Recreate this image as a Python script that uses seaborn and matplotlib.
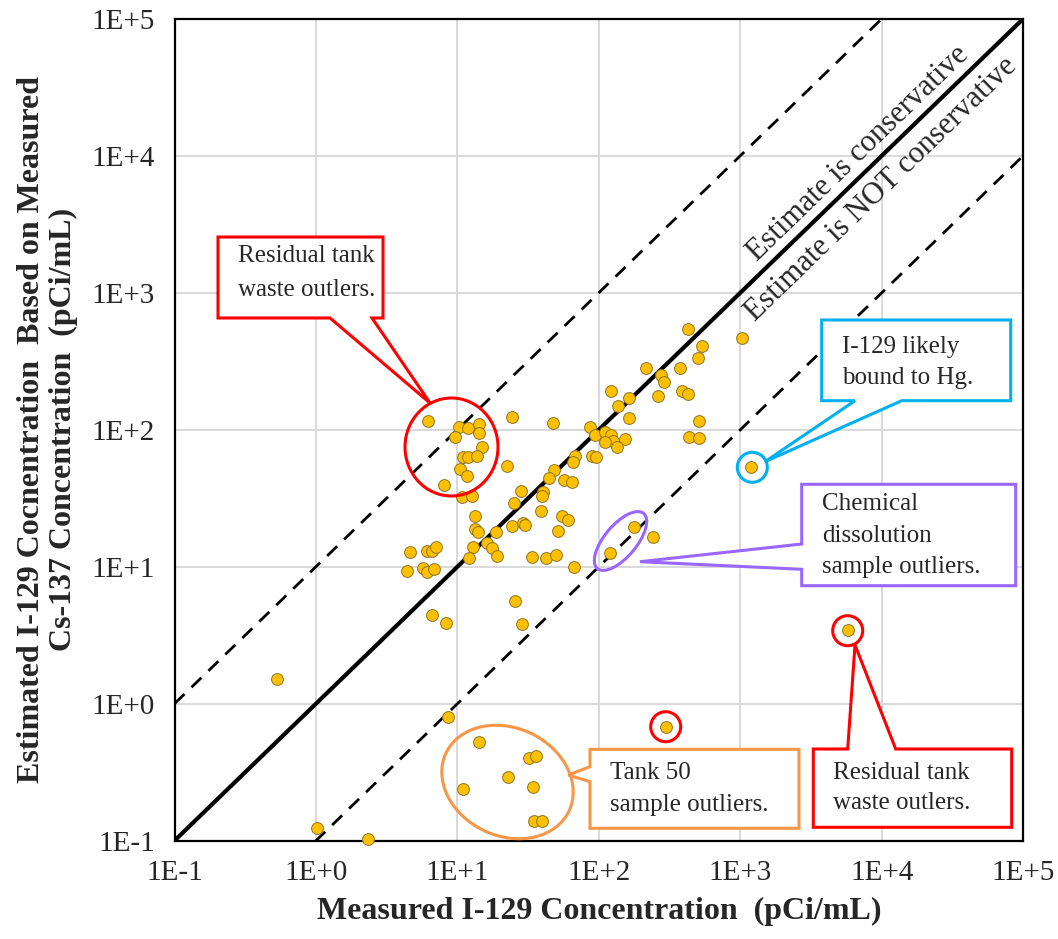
import numpy as np
import pandas as pd
import matplotlib
matplotlib.use("Agg")
import matplotlib.pyplot as plt
import seaborn as sns
from matplotlib.patches import Polygon, Ellipse, Circle
from matplotlib.ticker import LogLocator, NullFormatter

# ---------------- data ----------------
measured = [6.15, 10.3, 11.8, 14.2, 14.2, 9.6, 14.8, 11.0, 11.9, 13.7, 10.4, 11.6, 8.07, 10.8, 12.6,
            24.5, 47.5, 22.5, 13.4, 13.3, 13.9, 18.6, 28.2, 25.2, 40.4, 39.4, 48.3, 44.5, 56.9, 64.1,
            38.9, 55.0, 60.7, 24.5, 29.2, 30.0, 51.6, 67.6, 66.1, 4.62, 6.06, 6.64, 7.01, 4.42, 5.73,
            6.06, 6.86, 12.8, 12.1, 16.3, 17.6, 19.1, 33.8, 42.0, 49.7, 66.4, 25.4, 28.4, 6.57, 8.33,
            426, 537, 501, 214, 274, 287, 374, 388, 424, 122, 162, 136, 262, 163, 512, 430, 512,
            86.8, 94.5, 111, 122, 126, 153, 111, 135, 89.7, 95.3, 1019, 1180, 178, 242, 119, 5780,
            296, 0.527, 8.61, 14.2, 32.2, 35.7, 22.9, 10.9, 34.0, 34.7, 39.7, 1.01, 2.32]
estimated = [115.6, 105, 103.5, 109.5, 95, 88, 75.2, 63, 63.5, 64.3, 51.7, 46.2, 39.3, 32.4, 33,
             123, 112, 54.6, 23.4, 18.7, 17.8, 17.8, 35.7, 29.0, 35.2, 33, 50.8, 44.2, 43.0, 41.2,
             25.6, 23.4, 21.9, 19.8, 20.8, 20.0, 18.2, 64.3, 57.8, 12.7, 13.1, 13.1, 14.0, 9.3, 9.73,
             9.1, 9.6, 13.9, 11.5, 14.8, 13.8, 12.0, 11.8, 11.5, 12.2, 10.0, 5.65, 3.84, 4.46, 3.86,
             543, 410, 332, 280, 252, 223, 281, 191, 182, 191, 170, 150, 177, 121, 116, 89.2, 87.7,
             104, 91.8, 97, 91.4, 83.4, 86, 81.7, 75.2, 63.9, 63.5, 470, 53.2, 19.4, 16.6, 12.5, 3.43,
             0.68, 1.51, 0.796, 0.523, 0.399, 0.417, 0.293, 0.238, 0.248, 0.140, 0.140, 0.123, 0.103]

ticks = [1e-1, 1e0, 1e1, 1e2, 1e3, 1e4, 1e5]
tick_labels = ["1E-1", "1E+0", "1E+1", "1E+2", "1E+3", "1E+4", "1E+5"]

ref_x = [1e-1, 1e5]
ref_factors = {"parity": 1.0, "conservative": 10.0, "not_conservative": 0.1}

x_label = "Measured I-129 Concentration  (pCi/mL)"
y_label = "Estimated I-129 Cocnentration  Based on Measured\nCs-137 Concentration  (pCi/mL)"

# ---------------- style ----------------
sns.set_style("white")
plt.rcParams["font.family"] = ["Liberation Serif", "DejaVu Serif"]

W, H = 1058, 939
fig = plt.figure(figsize=(W / 100, H / 100), dpi=100)
L, R, T, B = 174.5, 1023.3, 18.7, 840.7
ax = fig.add_axes([L / W, (H - B) / H, (R - L) / W, (B - T) / H])

df = pd.DataFrame({"measured": measured, "estimated": estimated})

ax.set_xscale("log")
ax.set_yscale("log")
ax.set_xlim(1e-1, 1e5)
ax.set_ylim(1e-1, 1e5)

# reference lines
rx = np.array(ref_x)
ax.plot(rx, rx * ref_factors["parity"], color="black", lw=3.0, zorder=3, solid_capstyle="butt")
ax.plot(rx, rx * ref_factors["conservative"], color="black", lw=2.0, ls=(0, (5, 3.5)), zorder=3)
ax.plot(rx, rx * ref_factors["not_conservative"], color="black", lw=2.0, ls=(0, (5, 3.5)), zorder=3)

sns.scatterplot(data=df, x="measured", y="estimated", ax=ax, color="#FFC000",
                edgecolor="#8C7420", linewidth=0.7, s=72, zorder=5, clip_on=False, legend=False)

# grid & ticks
ax.grid(True, which="major", color="#d9d9d9", lw=1.4, zorder=0)
ax.set_axisbelow(True)
ax.set_xticks(ticks)
ax.set_xticklabels(tick_labels)
ax.set_yticks(ticks)
ax.set_yticklabels(tick_labels)
for axis in (ax.xaxis, ax.yaxis):
    axis.set_minor_locator(LogLocator(base=10, subs=np.arange(2, 10)))
    axis.set_minor_formatter(NullFormatter())
ax.tick_params(which="major", direction="inout", length=12, width=1.4, labelsize=21,
               top=False, right=False, pad=8)
ax.tick_params(which="minor", direction="in", length=5, width=1.1, top=False, right=False)
for s in ax.spines.values():
    s.set_linewidth(1.6)
    s.set_color("black")

ax.set_xlabel(x_label, fontsize=23, fontweight="bold", labelpad=8)
ax.set_ylabel(y_label, fontsize=23, fontweight="bold", labelpad=10, linespacing=1.1)

# slanted region labels
rot = np.degrees(np.arctan2(B - T, R - L))
ax.text(10 ** 3.835, 10 ** 4.015, "Estimate is conservative", rotation=rot, rotation_mode="anchor",
        ha="center", va="center", fontsize=22, zorder=6)
ax.text(10 ** 3.995, 10 ** 3.755, "Estimate is NOT conservative", rotation=rot, rotation_mode="anchor",
        ha="center", va="center", fontsize=22, zorder=6)

# ---------------- callouts (overlay in pixel space) ----------------
ov = fig.add_axes([0, 0, 1, 1], zorder=10)
ov.set_xlim(0, W)
ov.set_ylim(H, 0)
ov.axis("off")
ov.patch.set_alpha(0)

RED, BLUE, PURPLE, ORANGE = "#FF0000", "#00B0F0", "#9966FF", "#F79646"
LW = 2.2


def callout(verts, color):
    ov.add_patch(Polygon(verts, closed=True, facecolor="white", edgecolor=color, lw=LW,
                         joinstyle="miter"))


def lines(x, ys, texts):
    for y, t in zip(ys, texts):
        ov.text(x, y, t, fontsize=18, ha="left", va="center")


# residual tank (upper-left)
callout([(218, 237), (383, 237), (383, 318), (372, 318), (430, 403), (330, 318), (218, 318)], RED)
ov.add_patch(Ellipse((451.5, 447), 93, 98, fill=False, edgecolor=RED, lw=LW))
lines(238, [256, 290], ["Residual tank", "waste outlers."])

# Hg
callout([(821.7, 320), (1010.7, 320), (1010.7, 400.7), (901.7, 400.7), (765, 461.7),
         (855, 400.7), (821.7, 400.7)], BLUE)
ov.add_patch(Ellipse((752.3, 467.3), 30, 30, fill=False, edgecolor=BLUE, lw=LW))
lines(841.7, [347, 378], ["I-129 likely", "bound to Hg."])

# chemical dissolution
callout([(801.7, 484.3), (1015.7, 484.3), (1015.7, 585.7), (801.7, 585.7), (801.7, 569.3),
         (640, 561.7), (801.7, 544)], PURPLE)
ov.add_patch(Ellipse((620.5, 541), 72, 32, angle=-50, fill=False, edgecolor=PURPLE, lw=LW))
lines(821.7, [504, 536, 567], ["Chemical", "dissolution", "sample outliers."])

# tank 50
callout([(590, 749.3), (799, 749.3), (799, 828.3), (590, 828.3), (590, 781.7),
         (568.3, 775), (590, 766.7)], ORANGE)
ov.add_patch(Ellipse((507.5, 782), 136, 108, angle=25, fill=False, edgecolor=ORANGE, lw=LW))
lines(610, [773.3, 805], ["Tank 50", "sample outliers."])

# residual tank (lower-right)
ov.add_patch(Circle((847.7, 630.7), 15, fill=False, edgecolor=RED, lw=LW))
ov.add_patch(Circle((665.7, 726.7), 15, fill=False, edgecolor=RED, lw=LW))
callout([(813.3, 749), (847.7, 749), (855, 645), (895.7, 749), (1011.7, 749), (1011.7, 827.3),
         (813.3, 827.3)], RED)
lines(833.3, [772.7, 803.3], ["Residual tank", "waste outlers."])

fig.savefig("out.png", dpi=100)
